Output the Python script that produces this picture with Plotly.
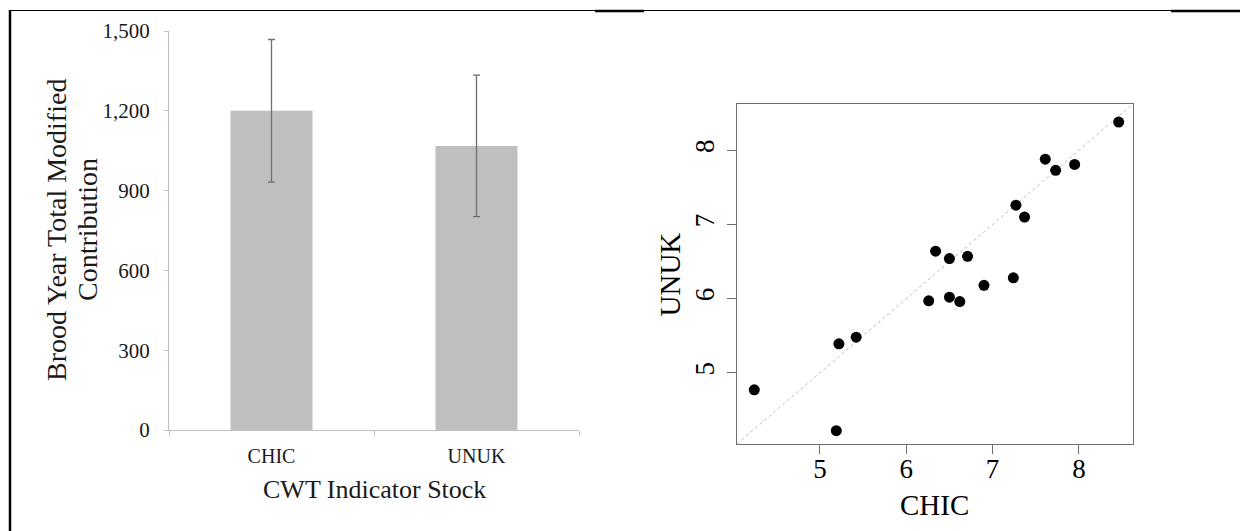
import plotly.graph_objects as go

# ---------------- data ----------------
categories = ["CHIC", "UNUK"]
mean_contrib = [1200, 1068]
err_contrib = [268, 266]
bar_ticks = [0, 300, 600, 900, 1200, 1500]

chic_vals = [4.24, 5.19, 5.22, 5.42, 6.26, 6.34, 6.50, 6.50, 6.62, 6.71,
             6.90, 7.24, 7.27, 7.37, 7.61, 7.73, 7.95, 8.46]
unuk_vals = [4.77, 4.22, 5.39, 5.48, 5.97, 6.64, 6.54, 6.02, 5.96, 6.57,
             6.18, 6.28, 7.26, 7.10, 7.88, 7.73, 7.81, 8.38]
scatter_ticks = [5, 6, 7, 8]
scatter_lim = [4.04, 8.62]

W, H = 1240, 531
FONT = "Times New Roman, Liberation Serif, serif"


def px(x):
    return x / W


def py(y):
    return 1 - y / H


fig = go.Figure()

# ---------------- bar chart ----------------
fig.add_trace(go.Bar(
    x=categories, y=mean_contrib, width=0.4,
    marker=dict(color="#BFBFBF", line=dict(width=0)),
    error_y=dict(type="data", array=err_contrib, color="#6E6E6E",
                 thickness=1.3, width=3.5),
    xaxis="x", yaxis="y", showlegend=False,
))

# ---------------- scatter ----------------
fig.add_trace(go.Scatter(
    x=scatter_lim, y=scatter_lim, mode="lines",
    line=dict(color="#BDBDBD", width=1, dash="dot"),
    xaxis="x2", yaxis="y2", showlegend=False, hoverinfo="skip",
))
fig.add_trace(go.Scatter(
    x=chic_vals, y=unuk_vals, mode="markers",
    marker=dict(color="black", size=11),
    xaxis="x2", yaxis="y2", showlegend=False,
))

bar_axis_col = "#BFBFBF"
box_col = "#707070"
fig.update_layout(
    template="none",
    width=W, height=H,
    margin=dict(l=0, r=0, t=0, b=0, pad=0, autoexpand=False),
    paper_bgcolor="white", plot_bgcolor="white",
    font=dict(family=FONT, color="#1a1a1a"),
    xaxis=dict(
        domain=[px(169), px(579)], type="category", range=[-0.5, 1.5],
        showline=True, linecolor=bar_axis_col, linewidth=1,
        ticks="outside", tickson="boundaries", ticklen=5, tickcolor=bar_axis_col,
        ticklabelstandoff=8,
        showgrid=False, zeroline=False, automargin=False,
        tickfont=dict(family=FONT, size=20, color="#1a1a1a"),
        anchor="y",
    ),
    yaxis=dict(
        domain=[py(430), py(31)], range=[0, 1500],
        tickvals=bar_ticks, tickformat=",d",
        showline=True, linecolor=bar_axis_col, linewidth=1,
        ticks="outside", ticklen=4, tickcolor=bar_axis_col,
        ticklabelstandoff=10,
        showgrid=False, zeroline=False, automargin=False,
        tickfont=dict(family=FONT, size=21, color="#1a1a1a"),
        anchor="x",
    ),
    xaxis2=dict(
        domain=[px(737), px(1132.5)], range=scatter_lim,
        tickvals=scatter_ticks,
        showline=True, mirror=True, linecolor=box_col, linewidth=1.2,
        ticks="outside", ticklen=9, tickcolor=box_col,
        ticklabelstandoff=-9,
        showgrid=False, zeroline=False, automargin=False,
        tickfont=dict(family=FONT, size=27, color="black"),
        anchor="y2",
    ),
    yaxis2=dict(
        domain=[py(444), py(104.3)], range=scatter_lim,
        tickvals=scatter_ticks, tickangle=-90,
        showline=True, mirror=True, linecolor=box_col, linewidth=1.2,
        ticks="outside", ticklen=9, tickcolor=box_col,
        ticklabelstandoff=2,
        showgrid=False, zeroline=False, automargin=False,
        tickfont=dict(family=FONT, size=27, color="black"),
        anchor="x2",
    ),
)

# ---------------- titles ----------------
ann = [
    dict(text="Brood Year Total Modified", x=px(56), y=py(230), textangle=-90,
         font=dict(size=28, family=FONT, color="#1a1a1a")),
    dict(text="Contribution", x=px(87), y=py(230), textangle=-90,
         font=dict(size=28, family=FONT, color="#1a1a1a")),
    dict(text="CWT Indicator Stock", x=px(374.5), y=py(489),
         font=dict(size=26, family=FONT, color="#1a1a1a")),
    dict(text="CHIC", x=px(934.5), y=py(505),
         font=dict(size=29, family=FONT, color="black")),
    dict(text="UNUK", x=px(669.5), y=py(275), textangle=-90,
         font=dict(size=29, family=FONT, color="black")),
]
for a in ann:
    fig.add_annotation(xref="paper", yref="paper", showarrow=False,
                       xanchor="center", yanchor="middle", **a)

# ---------------- page frame ----------------
frame = [
    dict(x0=px(10), x1=px(10), y0=0, y1=py(10), width=2.5),
    dict(x0=px(10), x1=1, y0=py(10.5), y1=py(10.5), width=1.2),
    dict(x0=px(595), x1=px(644), y0=py(11), y1=py(11), width=2.5),
    dict(x0=px(1171), x1=1, y0=py(11), y1=py(11), width=2.5),
]
for f in frame:
    fig.add_shape(type="line", xref="paper", yref="paper",
                  x0=f["x0"], x1=f["x1"], y0=f["y0"], y1=f["y1"],
                  line=dict(color="black", width=f["width"]))

fig.write_html("out.html")
